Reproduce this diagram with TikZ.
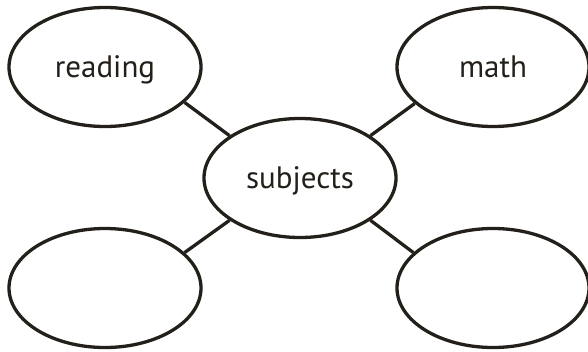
\documentclass[tikz,border=0pt]{standalone}
\usepackage{fontspec}
\setmainfont{PT Sans}
\usetikzlibrary{shapes.geometric}
\definecolor{ink}{HTML}{231F1A}
\begin{document}
\begin{tikzpicture}[x=1pt,y=-1pt,
  bubble/.style={ellipse, draw=ink, line width=3.3pt, minimum width=192pt, minimum height=119pt, inner sep=0pt, text=ink, text height=28pt, text depth=8pt, font=\fontsize{31}{34}\selectfont},
  link/.style={draw=ink, line width=3.3pt}]
\useasboundingbox (0,0) rectangle (588,351);
\node[bubble] (reading) at (105,67) {reading};
\node[bubble] (math) at (493,67) {math};
\node[bubble] (subjects) at (300,178) {subjects};
\node[bubble] (bl) at (105,288) {};
\node[bubble] (br) at (493,288) {};
\draw[link] (reading.-24) -- (subjects.149);
\draw[link] (math.205) -- (subjects.31);
\draw[link] (bl.24) -- (subjects.211);
\draw[link] (br.156) -- (subjects.-31);
\end{tikzpicture}
\end{document}
